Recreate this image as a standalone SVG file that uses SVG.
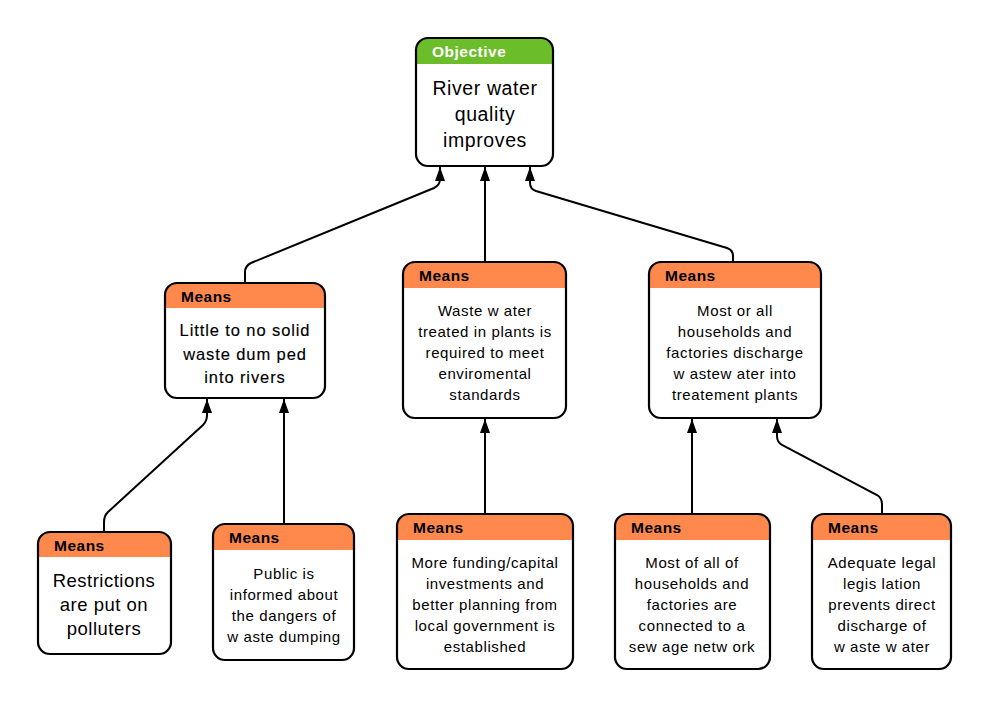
<svg xmlns="http://www.w3.org/2000/svg" width="1000" height="719" viewBox="0 0 1000 719">
<defs>
<style>
.box{fill:#fff;stroke:none}
.out{fill:none;stroke:#000;stroke-width:2.2}
.hm{fill:#ff884d}
.ho{fill:#6cbd2a}
.ht{font-family:"Liberation Sans",Arial,sans-serif;font-weight:bold;font-size:15.5px;letter-spacing:0.5px;fill:#000}
.hto{font-family:"Liberation Sans",Arial,sans-serif;font-weight:bold;font-size:15.5px;letter-spacing:0.5px;fill:#fff}
.t{font-family:"Liberation Sans",Arial,sans-serif;font-size:15px;letter-spacing:0.6px;fill:#000;text-anchor:middle}
.tl{font-family:"Liberation Sans",Arial,sans-serif;font-size:18.5px;letter-spacing:0.5px;fill:#000;text-anchor:middle}
.to{font-family:"Liberation Sans",Arial,sans-serif;font-size:19.5px;letter-spacing:0.6px;fill:#000;text-anchor:middle}
.tm{font-family:"Liberation Sans",Arial,sans-serif;font-size:16.5px;letter-spacing:0.9px;fill:#000;text-anchor:middle;stroke:#000;stroke-width:0.15}
.c{fill:none;stroke:#000;stroke-width:2}
</style>
<marker id="ah" markerUnits="userSpaceOnUse" markerWidth="14" markerHeight="10" refX="14" refY="5" orient="auto" viewBox="0 0 14 10">
<path d="M0,0 L14,5 L0,10 Z" fill="#000"/>
</marker>
</defs>
<rect width="1000" height="719" fill="#fff"/>

<g id="connectors">
<path class="c" marker-end="url(#ah)" d="M245,283 V272 Q245,266 251,263 L434,188 Q440,185 440,179 V167"/>
<path class="c" marker-end="url(#ah)" d="M485,262 V167"/>
<path class="c" marker-end="url(#ah)" d="M733,262 V256 Q733,250 727,248 L536,191 Q530,189 530,183 V167"/>
<path class="c" marker-end="url(#ah)" d="M104,532 V522 Q104,516 108,512 L203,425 Q207,421 207,415 V399"/>
<path class="c" marker-end="url(#ah)" d="M284,524 V399"/>
<path class="c" marker-end="url(#ah)" d="M485,514 V419"/>
<path class="c" marker-end="url(#ah)" d="M692,514 V419"/>
<path class="c" marker-end="url(#ah)" d="M882,514 V504 Q882,498 877,495 L782,445 Q777,442 777,436 V419"/>
</g>

<g id="objective">
<rect class="box" x="416" y="38" width="137" height="128" rx="12"/>
<path class="ho" d="M416,64 V50 A12,12 0 0 1 428,38 H541 A12,12 0 0 1 553,50 V64 Z"/>
<rect class="out" x="416" y="38" width="137" height="128" rx="12"/>
<text class="hto" x="432" y="57">Objective</text>
<text class="to" x="485" y="95">River water</text>
<text class="to" x="485" y="121">quality</text>
<text class="to" x="485" y="147">improves</text>
</g>

<g id="means-solid-waste">
<rect class="box" x="165" y="283" width="160" height="115" rx="12"/>
<path class="hm" d="M165,308 V295 A12,12 0 0 1 177,283 H313 A12,12 0 0 1 325,295 V308 Z"/>
<rect class="out" x="165" y="283" width="160" height="115" rx="12"/>
<text class="ht" x="181" y="302">Means</text>
<text class="tm" x="245" y="336">Little to no solid</text>
<text class="tm" x="245" y="360">waste dum ped</text>
<text class="tm" x="245" y="383">into rivers</text>
</g>

<g id="means-treated">
<rect class="box" x="403" y="262" width="163" height="156" rx="12"/>
<path class="hm" d="M403,288 V274 A12,12 0 0 1 415,262 H554 A12,12 0 0 1 566,274 V288 Z"/>
<rect class="out" x="403" y="262" width="163" height="156" rx="12"/>
<text class="ht" x="419" y="281">Means</text>
<text class="t" x="485" y="316">Waste w ater</text>
<text class="t" x="485" y="337">treated in plants is</text>
<text class="t" x="485" y="358">required to meet</text>
<text class="t" x="485" y="379">enviromental</text>
<text class="t" x="485" y="400">standards</text>
</g>

<g id="means-discharge">
<rect class="box" x="649" y="262" width="172" height="156" rx="12"/>
<path class="hm" d="M649,288 V274 A12,12 0 0 1 661,262 H809 A12,12 0 0 1 821,274 V288 Z"/>
<rect class="out" x="649" y="262" width="172" height="156" rx="12"/>
<text class="ht" x="665" y="281">Means</text>
<text class="t" x="735" y="316">Most or all</text>
<text class="t" x="735" y="337">households and</text>
<text class="t" x="735" y="358">factories discharge</text>
<text class="t" x="735" y="379">w astew ater into</text>
<text class="t" x="735" y="400">treatement plants</text>
</g>

<g id="means-restrictions">
<rect class="box" x="38" y="532" width="133" height="122" rx="12"/>
<path class="hm" d="M38,557 V544 A12,12 0 0 1 50,532 H159 A12,12 0 0 1 171,544 V557 Z"/>
<rect class="out" x="38" y="532" width="133" height="122" rx="12"/>
<text class="ht" x="54" y="551">Means</text>
<text class="tl" x="104" y="587">Restrictions</text>
<text class="tl" x="104" y="611">are put on</text>
<text class="tl" x="104" y="635">polluters</text>
</g>

<g id="means-public">
<rect class="box" x="213" y="524" width="141" height="136" rx="12"/>
<path class="hm" d="M213,550 V536 A12,12 0 0 1 225,524 H342 A12,12 0 0 1 354,536 V550 Z"/>
<rect class="out" x="213" y="524" width="141" height="136" rx="12"/>
<text class="ht" x="229" y="543">Means</text>
<text class="t" x="284" y="579">Public is</text>
<text class="t" x="284" y="600">informed about</text>
<text class="t" x="284" y="621">the dangers of</text>
<text class="t" x="284" y="642">w aste dumping</text>
</g>

<g id="means-funding">
<rect class="box" x="397" y="514" width="176" height="155" rx="12"/>
<path class="hm" d="M397,540 V526 A12,12 0 0 1 409,514 H561 A12,12 0 0 1 573,526 V540 Z"/>
<rect class="out" x="397" y="514" width="176" height="155" rx="12"/>
<text class="ht" x="413" y="533">Means</text>
<text class="t" x="485" y="568">More funding/capital</text>
<text class="t" x="485" y="589">investments and</text>
<text class="t" x="485" y="610">better planning from</text>
<text class="t" x="485" y="631">local government is</text>
<text class="t" x="485" y="652">established</text>
</g>

<g id="means-sewage">
<rect class="box" x="615" y="514" width="155" height="155" rx="12"/>
<path class="hm" d="M615,540 V526 A12,12 0 0 1 627,514 H758 A12,12 0 0 1 770,526 V540 Z"/>
<rect class="out" x="615" y="514" width="155" height="155" rx="12"/>
<text class="ht" x="631" y="533">Means</text>
<text class="t" x="692" y="568">Most of all of</text>
<text class="t" x="692" y="589">households and</text>
<text class="t" x="692" y="610">factories are</text>
<text class="t" x="692" y="631">connected to a</text>
<text class="t" x="692" y="652">sew age netw ork</text>
</g>

<g id="means-legislation">
<rect class="box" x="812" y="514" width="139" height="155" rx="12"/>
<path class="hm" d="M812,540 V526 A12,12 0 0 1 824,514 H939 A12,12 0 0 1 951,526 V540 Z"/>
<rect class="out" x="812" y="514" width="139" height="155" rx="12"/>
<text class="ht" x="828" y="533">Means</text>
<text class="t" x="882" y="568">Adequate legal</text>
<text class="t" x="882" y="589">legis lation</text>
<text class="t" x="882" y="610">prevents direct</text>
<text class="t" x="882" y="631">discharge of</text>
<text class="t" x="882" y="652">w aste w ater</text>
</g>
</svg>
